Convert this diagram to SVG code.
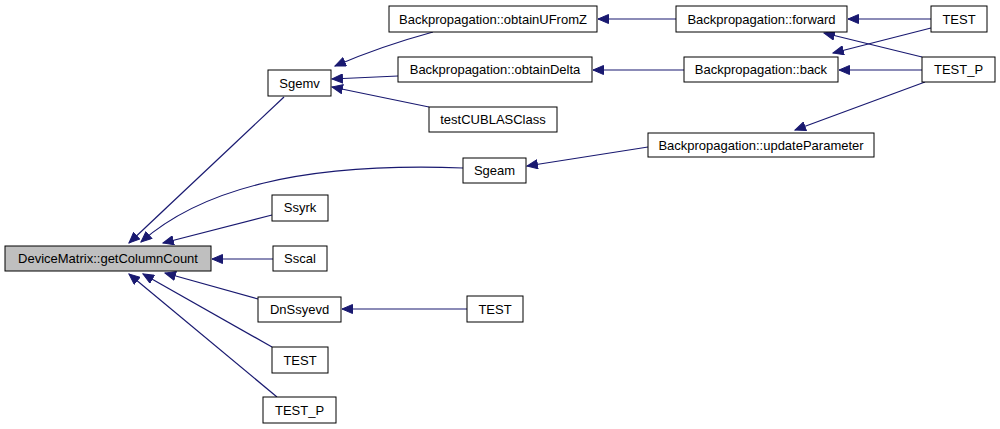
<svg xmlns="http://www.w3.org/2000/svg" width="1000" height="429" viewBox="0 0 1000 429">
<style>
.n rect{fill:#fff;stroke:#000;stroke-width:1}
.n text{font-family:"Liberation Sans",Arial,sans-serif;font-size:13px;text-anchor:middle;fill:#000}
.e path{fill:none;stroke:#191970;stroke-width:1.2}
</style>
<defs>
<marker id="a" markerWidth="13" markerHeight="10" refX="11" refY="5" orient="auto" markerUnits="userSpaceOnUse">
<path d="M0.5,0.5 L11,5 L0.5,9.5 z" fill="#191970" stroke="#191970"/>
</marker>
</defs>
<rect width="1000" height="429" fill="#fff"/>
<g class="e">
<path d="M284,97 L129,243" marker-end="url(#a)"/>
<path d="M463,168 C300,162 200,190 141,242" marker-end="url(#a)"/>
<path d="M272,215 L163,243" marker-end="url(#a)"/>
<path d="M273,259 L212,259" marker-end="url(#a)"/>
<path d="M258,299 L165,273" marker-end="url(#a)"/>
<path d="M272,347 L143,274" marker-end="url(#a)"/>
<path d="M277,397 L129,274" marker-end="url(#a)"/>
<path d="M433,32 C400,41 365,53 335,66" marker-end="url(#a)"/>
<path d="M398,76 L332,79" marker-end="url(#a)"/>
<path d="M429,107 L332,87" marker-end="url(#a)"/>
<path d="M648,147 L527,166" marker-end="url(#a)"/>
<path d="M676,19 L598,19" marker-end="url(#a)"/>
<path d="M684,70 L593,70" marker-end="url(#a)"/>
<path d="M931,19 L848,19" marker-end="url(#a)"/>
<path d="M931,28 L833,53" marker-end="url(#a)"/>
<path d="M922,57 L824,33" marker-end="url(#a)"/>
<path d="M922,70 L839,70" marker-end="url(#a)"/>
<path d="M925,82 L795,130" marker-end="url(#a)"/>
<path d="M467,309 L342,309" marker-end="url(#a)"/>
</g>
<g id="getColumnCount" class="n"><rect x="5" y="246" width="206" height="25" style="fill:#bfbfbf"/><text x="108" y="263">DeviceMatrix::getColumnCount</text></g>
<g id="Sgemv" class="n"><rect x="268" y="70" width="63" height="26"/><text x="299.5" y="88">Sgemv</text></g>
<g id="Sgeam" class="n"><rect x="463" y="158" width="63" height="25"/><text x="494.5" y="175">Sgeam</text></g>
<g id="Ssyrk" class="n"><rect x="272" y="195" width="56" height="26"/><text x="300" y="212">Ssyrk</text></g>
<g id="Sscal" class="n"><rect x="273" y="246" width="54" height="25"/><text x="300" y="263">Sscal</text></g>
<g id="DnSsyevd" class="n"><rect x="258" y="297" width="83" height="25"/><text x="299.5" y="314">DnSsyevd</text></g>
<g id="TEST1" class="n"><rect x="272" y="347" width="56" height="26"/><text x="300" y="365">TEST</text></g>
<g id="TEST_P1" class="n"><rect x="263" y="397" width="73" height="26"/><text x="299.5" y="415">TEST_P</text></g>
<g id="obtainUFromZ" class="n"><rect x="389" y="6" width="208" height="26"/><text x="493" y="24">Backpropagation::obtainUFromZ</text></g>
<g id="obtainDelta" class="n"><rect x="398" y="57" width="194" height="25"/><text x="495" y="74">Backpropagation::obtainDelta</text></g>
<g id="testCUBLASClass" class="n"><rect x="429" y="107" width="128" height="25"/><text x="493" y="124">testCUBLASClass</text></g>
<g id="forward" class="n"><rect x="676" y="6" width="171" height="26"/><text x="761.5" y="24">Backpropagation::forward</text></g>
<g id="back" class="n"><rect x="684" y="57" width="154" height="25"/><text x="761" y="74">Backpropagation::back</text></g>
<g id="updateParameter" class="n"><rect x="648" y="133" width="226" height="24"/><text x="761" y="150">Backpropagation::updateParameter</text></g>
<g id="TEST2" class="n"><rect x="931" y="6" width="56" height="26"/><text x="959" y="24">TEST</text></g>
<g id="TEST_P2" class="n"><rect x="922" y="57" width="73" height="25"/><text x="958.5" y="74">TEST_P</text></g>
<g id="TEST3" class="n"><rect x="467" y="296" width="56" height="26"/><text x="495" y="314">TEST</text></g>
</svg>
